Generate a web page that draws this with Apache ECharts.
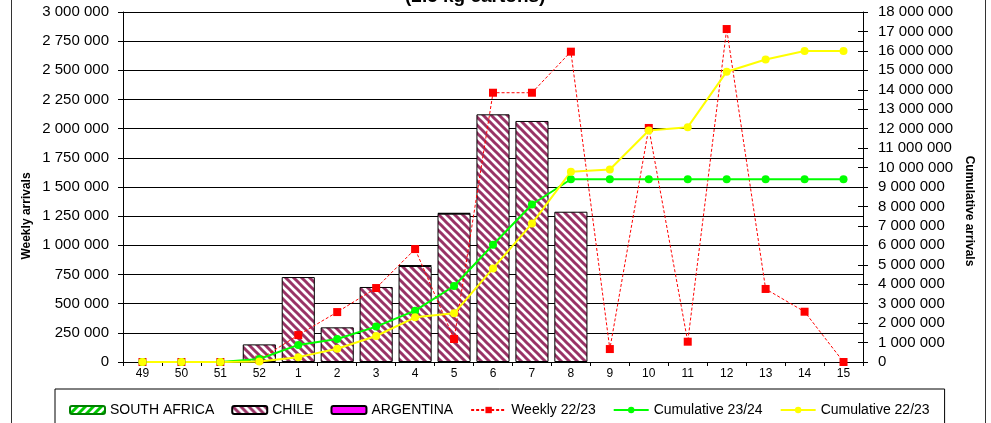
<!DOCTYPE html>
<html><head><meta charset="utf-8">
<script src="https://cdn.jsdelivr.net/npm/echarts@6/dist/echarts.min.js"></script>
<style>html,body{margin:0;padding:0;background:#fff}#c{width:991px;height:423px}</style>
</head><body><div id="c"></div>
<script>
const categories = ['49','50','51','52','1','2','3','4','5','6','7','8','9','10','11','12','13','14','15'];
const southAfrica = [null,null,null,null,null,null,null,null,null,null,null,null,null,null,null,null,null,null,null];
const chile = [null,null,4000,151000,728000,297000,643000,823000,1271000,2123000,2066000,1288000,null,null,null,null,null,null,null];
const argentina = [null,null,null,null,null,null,null,6000,6000,null,null,null,null,null,null,null,null,null,null];
const weekly2223 = [0,0,0,20000,231000,428000,634000,968000,197000,2308000,2308000,2660000,111000,2006000,174000,2854000,626000,431000,0];
const cum2324 = [0,0,5000,155000,880000,1180000,1820000,2640000,3910000,6030000,8100000,9400000,9400000,9400000,9400000,9400000,9400000,9400000,9400000];
const cum2223 = [0,0,0,20000,250000,680000,1337000,2300000,2504000,4812000,7120000,9788000,9899000,11905000,12079000,14930000,15556000,15990000,15990000];
const leftTicks = {min:0, max:3000000, interval:250000};
const rightTicks = {min:0, max:18000000, interval:1000000};

function stripes(color, dir){
  const s = 8, c = document.createElement('canvas');
  c.width = s; c.height = s;
  const g = c.getContext('2d');
  g.fillStyle = '#fff'; g.fillRect(0,0,s,s);
  g.strokeStyle = color; g.lineWidth = 3; g.lineCap = 'square';
  for (let k=-1;k<=1;k++){
    g.beginPath();
    if (dir === '\\'){ g.moveTo(k*s, 0); g.lineTo(k*s+s, s); }
    else { g.moveTo(k*s, s); g.lineTo(k*s+s, 0); }
    g.stroke();
  }
  return {image: c, repeat: 'repeat'};
}
const fmt = v => String(v).replace(/\B(?=(\d{3})+(?!\d))/g, ' ');
const FONT = 'Liberation Sans, Arial, sans-serif';

const chart = echarts.init(document.getElementById('c'), null, {renderer:'canvas'});
chart.setOption({
  animation: false,
  textStyle: {fontFamily: FONT, color: '#000'},
  graphic: [
    {type:'rect', shape:{x:11.5, y:-5, width:974, height:440}, style:{fill:'none', stroke:'#333', lineWidth:1}, silent:true},
    {type:'text', left: 405, top: -13, style:{text:'(2.5 kg cartons)', font:'bold 19px '+FONT, fill:'#000'}},
    {type:'text', x: 27, y: 216, rotation: Math.PI/2, style:{text:'Weekly arrivals', font:'bold 12px '+FONT, fill:'#000', align:'center', verticalAlign:'middle'}},
    {type:'text', x: 969, y: 211, rotation: -Math.PI/2, style:{text:'Cumulative arrivals', font:'bold 12px '+FONT, fill:'#000', align:'center', verticalAlign:'middle'}}
  ],
  grid: {left:123, right:128, top:12, bottom:61},
  legend: {
    left: 55, top: 389, padding: [14, 15, 14, 14],
    borderColor: '#000', borderWidth: 1,
    itemWidth: 35, itemHeight: 8, itemGap: 17,
    textStyle: {fontSize: 14, fontFamily: FONT, color:'#000'},
    data: ['SOUTH AFRICA','CHILE','ARGENTINA','Weekly 22/23','Cumulative 23/24','Cumulative 22/23']
  },
  xAxis: {
    type:'category', data: categories, boundaryGap: true,
    axisLine:{lineStyle:{color:'#000'}},
    axisTick:{show:true, length:4, lineStyle:{color:'#000'}},
    axisLabel:{fontSize:12, color:'#000', margin:6}
  },
  yAxis: [
    {type:'value', position:'left', min:leftTicks.min, max:leftTicks.max, interval:leftTicks.interval,
     axisLine:{show:true, lineStyle:{color:'#000'}}, axisTick:{show:true, length:5, lineStyle:{color:'#000'}},
     axisLabel:{fontSize:15, color:'#000', margin:14, formatter: fmt},
     splitLine:{show:true, lineStyle:{color:'#000', width:1}}},
    {type:'value', position:'right', min:rightTicks.min, max:rightTicks.max, interval:rightTicks.interval,
     axisLine:{show:true, lineStyle:{color:'#000'}}, axisTick:{show:true, length:5, lineStyle:{color:'#000'}},
     axisLabel:{fontSize:15, color:'#000', margin:15, formatter: fmt},
     splitLine:{show:false}},
    {type:'value', position:'left', min:leftTicks.min, max:leftTicks.max, interval:leftTicks.interval,
     axisLine:{show:false}, axisTick:{show:true, inside:true, length:4, lineStyle:{color:'#000'}},
     axisLabel:{show:false}, splitLine:{show:false}},
    {type:'value', position:'right', min:rightTicks.min, max:rightTicks.max, interval:rightTicks.interval,
     axisLine:{show:false}, axisTick:{show:true, inside:true, length:5, lineStyle:{color:'#000'}},
     axisLabel:{show:false}, splitLine:{show:false}}
  ],
  series: [
    {name:'SOUTH AFRICA', type:'bar', stack:'a', yAxisIndex:0, data: southAfrica, barCategoryGap:'15%',
     itemStyle:{color: stripes('#00cc00','/'), borderColor:'#008000', borderWidth:1}},
    {name:'CHILE', type:'bar', stack:'a', yAxisIndex:0, data: chile, barCategoryGap:'15%',
     itemStyle:{color: stripes('#993366','\\'), borderColor:'#000', borderWidth:1}},
    {name:'ARGENTINA', type:'bar', stack:'a', yAxisIndex:0, data: argentina, barCategoryGap:'15%',
     itemStyle:{color:'#ff00ff', borderColor:'#000', borderWidth:1}},
    {name:'Weekly 22/23', type:'line', yAxisIndex:0, data: weekly2223,
     lineStyle:{color:'#ff0000', width:1, type:[3,2]}, itemStyle:{color:'#ff0000'},
     symbol:'rect', symbolSize:8, showAllSymbol:true},
    {name:'Cumulative 23/24', type:'line', yAxisIndex:1, data: cum2324,
     lineStyle:{color:'#00ff00', width:2}, itemStyle:{color:'#00ff00'},
     symbol:'circle', symbolSize:8, showAllSymbol:true},
    {name:'Cumulative 22/23', type:'line', yAxisIndex:1, data: cum2223,
     lineStyle:{color:'#ffff00', width:2}, itemStyle:{color:'#ffff00'},
     symbol:'circle', symbolSize:8, showAllSymbol:true}
  ]
});
</script></body></html>
